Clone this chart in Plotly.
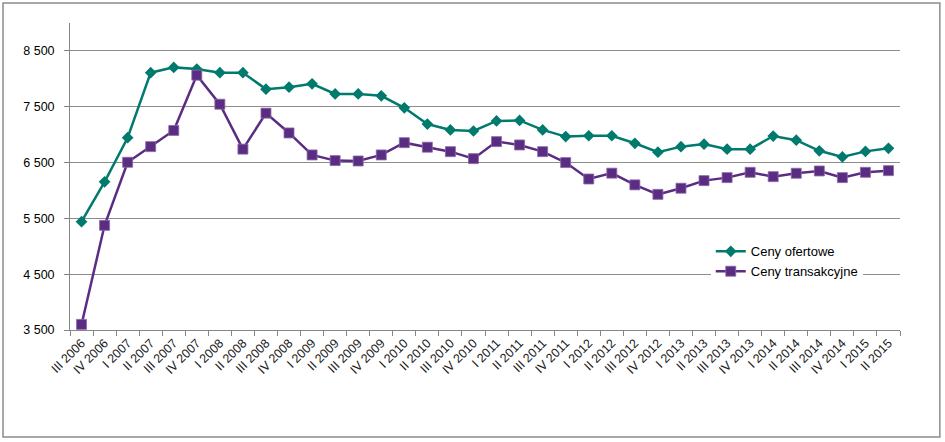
import plotly.graph_objects as go

# kwartały
kwartaly = [
    "III 2006", "IV 2006",
    "I 2007", "II 2007", "III 2007", "IV 2007",
    "I 2008", "II 2008", "III 2008", "IV 2008",
    "I 2009", "II 2009", "III 2009", "IV 2009",
    "I 2010", "II 2010", "III 2010", "IV 2010",
    "I 2011", "II 2011", "III 2011", "IV 2011",
    "I 2012", "II 2012", "III 2012", "IV 2012",
    "I 2013", "II 2013", "III 2013", "IV 2013",
    "I 2014", "II 2014", "III 2014", "IV 2014",
    "I 2015", "II 2015",
]

# ceny ofertowe (zł/m2)
ceny_ofertowe = [
    5440, 6155, 6945, 8110, 8205, 8175,
    8110, 8110, 7815, 7850, 7910, 7730,
    7730, 7695, 7480, 7190, 7085, 7065,
    7245, 7255, 7085, 6965, 6980, 6980,
    6845, 6685, 6785, 6830, 6740, 6740,
    6975, 6900, 6710, 6600, 6700, 6755,
]

# ceny transakcyjne (zł/m2)
ceny_transakcyjne = [
    3600, 5375, 6505, 6785, 7075, 8065,
    7545, 6740, 7385, 7030, 6636, 6535,
    6528, 6636, 6856, 6775, 6695, 6570,
    6875, 6815, 6695, 6500, 6205, 6310,
    6100, 5930, 6040, 6176, 6230, 6325,
    6247, 6308, 6349, 6230, 6325, 6355,
]

zielony = "#007A6C"
fiolet = "#5B2D82"

fig = go.Figure()

fig.add_trace(go.Scatter(
    x=kwartaly, y=ceny_ofertowe,
    mode="lines+markers", name="Ceny ofertowe",
    line=dict(color=zielony, width=2.5),
    marker=dict(symbol="diamond", size=9, color=zielony),
))

fig.add_trace(go.Scatter(
    x=kwartaly, y=ceny_transakcyjne,
    mode="lines+markers", name="Ceny transakcyjne",
    line=dict(color=fiolet, width=2.5),
    marker=dict(symbol="square", size=10, color=fiolet,
                line=dict(color="#8A6AA8", width=0.8)),
))

# ramka wokół całego wykresu
fig.add_shape(
    type="rect", xref="paper", yref="paper",
    x0=-0.0807, x1=1.048, y0=-0.3485, y1=1.065,
    line=dict(color="#8C8C8C", width=1.5), layer="below",
)

fig.update_layout(
    width=945, height=442,
    margin=dict(l=70, r=45, t=23, b=112, autoexpand=False),
    paper_bgcolor="white", plot_bgcolor="white",
    separators=", ",
    font=dict(family="Liberation Sans, Arial, sans-serif", size=12, color="#000000"),
    showlegend=True,
    legend=dict(
        x=0.772, y=0.305, xanchor="left", yanchor="top",
        bgcolor="white", font=dict(size=13),
        tracegroupgap=2, itemwidth=30,
    ),
    xaxis=dict(
        type="category", tickangle=-45, automargin=False,
        showline=True, linecolor="#868686", linewidth=1,
        ticks="outside", ticklen=5, tickcolor="#868686",
        tickson="boundaries", showgrid=False,
        range=[-0.5, len(kwartaly) - 0.5],
        tickfont=dict(size=12.5, color="#1a1a1a"),
    ),
    yaxis=dict(
        range=[3500, 9000], tick0=3500, dtick=1000, automargin=False,
        tickformat=",d",
        showline=True, linecolor="#868686", linewidth=1,
        ticks="outside", ticklen=5, tickcolor="#868686",
        showgrid=True, gridcolor="#8C8C8C", gridwidth=1,
        zeroline=False, tickfont=dict(size=12.5),
        ticksuffix="  ",
    ),
)

# bez marginesu strony, żeby wykres zaczynał się w rogu okna
fig.write_html(
    "out.html",
    config={"displayModeBar": False},
    post_script="document.body.style.margin='0';",
)
